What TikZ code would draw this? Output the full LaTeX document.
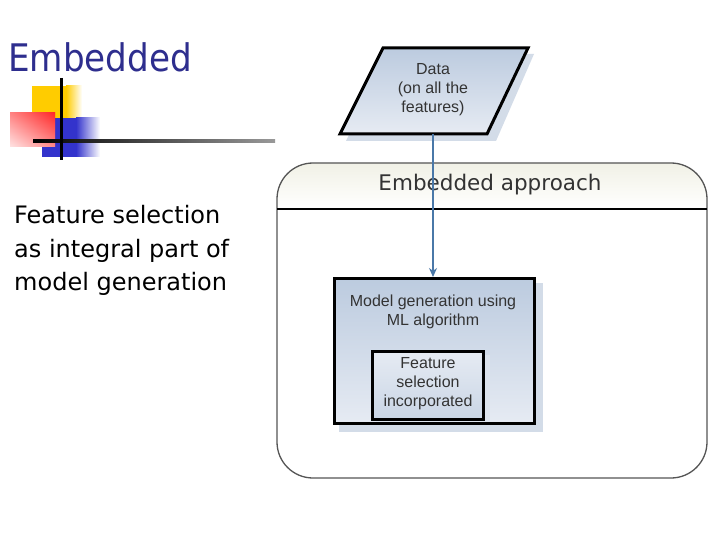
\documentclass[tikz,border=0pt]{standalone}
\usepackage{fontspec}
\setmainfont{Liberation Sans}
\newfontfamily\dejavu{DejaVu Sans}
\newfontfamily\dejavucond{DejaVu Sans Condensed}
\usetikzlibrary{arrows.meta}
\definecolor{titleblue}{HTML}{2E2E8E}
\definecolor{boxtop}{HTML}{BCCBDF}
\definecolor{boxbot}{HTML}{E6EBF3}
\definecolor{shadowc}{HTML}{D3DCE8}
\definecolor{txt}{HTML}{333333}
\definecolor{arrowc}{HTML}{4A78A8}
\definecolor{frame}{HTML}{555555}
\definecolor{headc}{HTML}{F1F1E6}
\definecolor{logoyel}{HTML}{FFCC00}
\definecolor{logored}{HTML}{FF2A2A}
\definecolor{logoblue}{HTML}{3333CC}
\tikzset{
  boxtext/.style={font=\fontsize{16}{19}\selectfont, text=txt, align=center},
  flowbox/.style={draw=black, line width=3pt, top color=boxtop, bottom color=boxbot},
  bodytext/.style={font=\dejavu\fontsize{24}{34}\selectfont, text=black, anchor=base west, inner sep=0pt},
}
\begin{document}
\begin{tikzpicture}[x=1pt,y=-1pt]
\useasboundingbox[fill=white] (0,0) rectangle (720,540);

% ---- logo ----
\fill[logoyel] (32,86) rectangle (66,130);
\shade[left color=logoyel, right color=white] (66,86) rectangle (82,130);
\fill[logoblue] (42,118) rectangle (76,157);
\shade[left color=logoblue, right color=white] (76,118) rectangle (100,157);
\shade[left color=logored!15, right color=logored] (10,113) rectangle (55,147);
\shade[top color=logored, bottom color=logored!10, opacity=0.5] (10,113) rectangle (55,147);
\shade[left color=black, right color=black!40] (33,139.5) rectangle (275,142.5);
\draw[line width=3pt, black] (61,78) -- (61,160);

% ---- title and body text ----
\node[anchor=base west, inner sep=0pt, text=titleblue, font=\dejavucond\fontsize{38}{40}\selectfont] (title) at (8,72) {Embedded};
\node[bodytext] (l1) at (14,223) {Feature selection};
\node[bodytext] (l2) at (14,257) {as integral part of};
\node[bodytext] (l3) at (14,290) {model generation};

% ---- container ----
\begin{scope}
  \clip[rounded corners=36pt] (277,163) rectangle (707,478);
  \shade[top color=headc, bottom color=white] (277,163) rectangle (707,209);
\end{scope}
\draw[frame, line width=1.3pt, rounded corners=36pt] (277,163) rectangle (707,478);
\draw[black, line width=1.5pt] (277,209) -- (707,209);
\node[font=\dejavu\fontsize{21.5}{24}\selectfont, text=txt] (head) at (490,185) {Embedded approach};

% ---- data parallelogram ----
\fill[shadowc] (388,54) -- (534,54) -- (496,141) -- (346,141) -- cycle;
\draw[flowbox, line width=3pt, line join=miter] (383,48) -- (528,48) -- (487,134) -- (340,134) -- cycle;
\node[boxtext] (data) at (433,90) {Data\\(on all the\\features)};
\coordinate (datab) at (433,134);

% ---- model box ----
\fill[shadowc] (339,283) rectangle (543,432);
\node[top color=boxtop, bottom color=boxbot, minimum width=200pt, minimum height=145pt, inner sep=0pt] (modelfill) at (434.5,351) {};
\fill[shadowc!80!white] (376,355) rectangle (490,422);
\node[draw=black, line width=3pt, minimum width=200pt, minimum height=145pt, inner sep=0pt] (model) at (434.5,351) {};
\node[boxtext] (modeltxt) at (433,311.5) {Model generation using\\ML algorithm};
\node[flowbox, minimum width=111pt, minimum height=68pt, inner sep=0pt, top color=boxbot, bottom color=boxtop!80!white] (feat) at (428,385.5) {};
\node[boxtext] (feattxt) at (428,383.5) {Feature\\selection\\incorporated};

% ---- arrow ----
\draw[arrowc, line width=1.3pt, -{Stealth[length=9pt,width=8pt]}] (datab) -- (model.north -| datab);
\end{tikzpicture}
\end{document}
